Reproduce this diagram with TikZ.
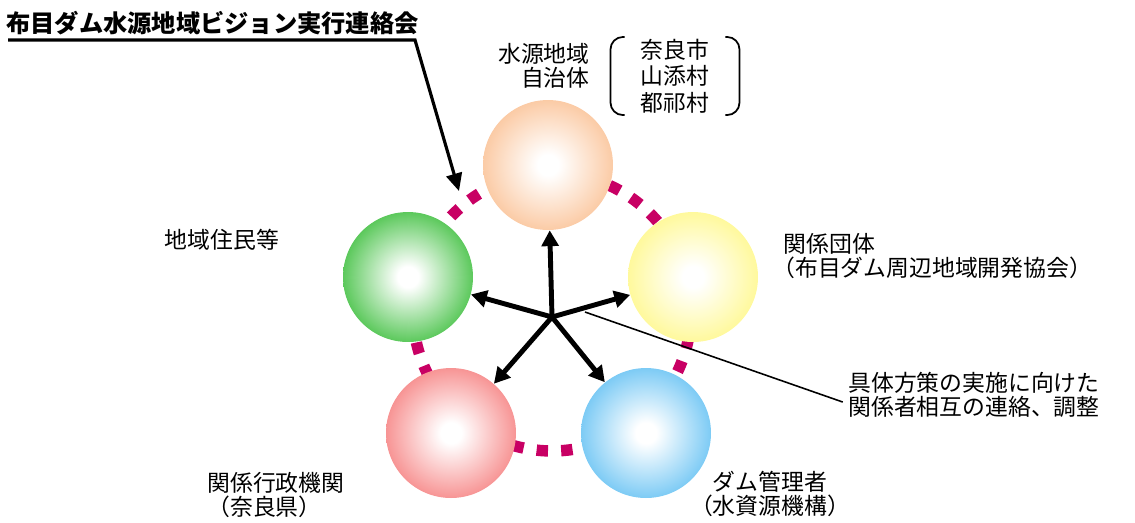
\documentclass[tikz,border=0pt]{standalone}
\usepackage{fontspec}
\setmainfont{Noto Sans CJK JP}
\usetikzlibrary{arrows.meta,positioning}
\definecolor{orangeball}{RGB}{250,188,140}
\definecolor{yellowball}{RGB}{255,247,128}
\definecolor{greenball}{RGB}{45,185,45}
\definecolor{redball}{RGB}{245,118,118}
\definecolor{blueball}{RGB}{88,188,242}
\definecolor{ringcol}{RGB}{200,0,100}
\colorlet{ballcol}{white}
\pgfdeclareradialshading[ballcol]{softball}{\pgfpoint{0bp}{0bp}}%
  {color(0bp)=(white);color(4bp)=(white);color(31bp)=(ballcol);color(50bp)=(ballcol)}

\begin{document}
\begin{tikzpicture}
  [x=0.02cm,y=-0.02cm,
   ball/.style={circle,minimum size=2.6cm,inner sep=0pt,
     /utils/exec={\colorlet{ballcol}{#1}},shading=softball},
   lbl/.style={font=\fontsize{13pt}{14pt}\selectfont,inner sep=0pt},
   ring/.style={ringcol,line width=6.5pt,dash pattern=on 6.5pt off 7.5pt},
   hubarrow/.style={line width=2.8pt,-{Triangle[length=9pt,width=9.5pt]}}]
  \useasboundingbox (0,0) rectangle (1135,522);

  % dashed ring behind the balls
  \draw[ring] (552,312) circle [radius=2.78cm];

  \node[ball=orangeball] (n1) at (548,165) {};
  \node[ball=yellowball] (n2) at (693,277) {};
  \node[ball=blueball]   (n3) at (646,433) {};
  \node[ball=redball]    (n4) at (451,433) {};
  \node[ball=greenball]  (n5) at (408,277) {};

  \coordinate (hub) at (552,317);
  \foreach \to in {n1,n2,n3,n4,n5}
    \draw[hubarrow] (hub) -- (\to);

  % labels
  \node[lbl,anchor=east,align=right] (l1) at (590,66) {水源地域\\自治体};
  \node[lbl,align=center,font=\fontsize{13pt}{15pt}\selectfont] (towns) at (675,76) {奈良市\\山添村\\都祁村};
  \draw[line width=1pt,rounded corners=7pt]
    ([xshift=-9pt,yshift=1pt]towns.north west) -- ([xshift=-17pt,yshift=1pt]towns.north west)
    -- ([xshift=-17pt,yshift=-1pt]towns.south west) -- ([xshift=-9pt,yshift=-1pt]towns.south west);
  \draw[line width=1pt,rounded corners=7pt]
    ([xshift=9pt,yshift=1pt]towns.north east) -- ([xshift=17pt,yshift=1pt]towns.north east)
    -- ([xshift=17pt,yshift=-1pt]towns.south east) -- ([xshift=9pt,yshift=-1pt]towns.south east);
  \node[lbl,anchor=west,align=left] (l2) at (772,256) {\hspace{0.5em}関係団体\\（布目ダム周辺地域開発協会）};
  \node[lbl,align=center] (l3) at (770,494) {ダム管理者\\（水資源機構）};
  \node[lbl,anchor=west,align=left] (l4) at (207,495) {関係行政機関\\（奈良県）};
  \node[lbl] (l5) at (222,240) {地域住民等};

  \node[lbl,anchor=west,align=left] (note) at (848,395) {具体方策の実施に向けた\\関係者相互の連絡、調整};
  \coordinate (notestart) at (585,312);
  \draw[line width=0.9pt] (notestart) -- ([xshift=-3pt,yshift=-4pt]note.west);

  \node[lbl,anchor=west,font=\fontsize{13.8pt}{16pt}\selectfont\bfseries] (title) at (6,23)
    {布目ダム水源地域ビジョン実行連絡会};
  \coordinate (tstart) at (8,40);
  \coordinate (tbend) at (415,40);
  \coordinate (ttip) at (459,191);
  \draw[line width=1.8pt,-{Triangle[length=10pt,width=9pt]}] (tstart) -- (tbend) -- (ttip);
\end{tikzpicture}
\end{document}
